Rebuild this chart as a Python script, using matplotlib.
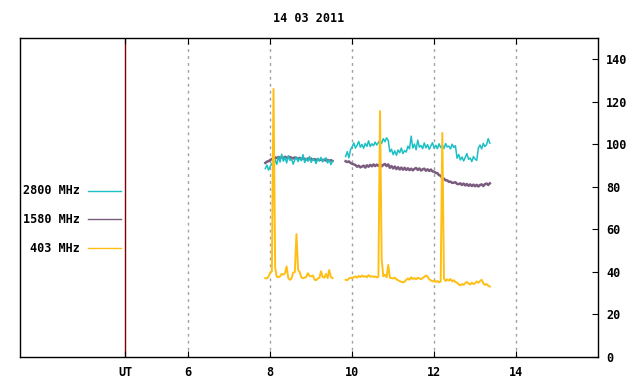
import numpy as np
import matplotlib
matplotlib.use('Agg')
import matplotlib.pyplot as plt

# times in hours UT, sampled every 0.04 h
STEP = 0.04
T1_START = 7.88
T2_START = 9.84

mhz2800_a = [88.5, 90.2, 87.8, 89.6, 91.0, 89.2, 92.8, 90.5, 94.1, 91.6, 95.3, 92.0, 93.8, 91.2,
             94.6, 92.4, 93.1, 90.6, 92.7, 94.0, 91.8, 93.5, 92.2, 95.1, 91.4, 93.3, 92.0, 94.2,
             91.5, 93.0, 92.6, 90.9, 93.4, 92.1, 93.8, 91.7, 92.9, 93.6, 91.2, 92.5, 90.4, 92.0]
mhz2800_b = [94.2, 96.5, 93.6, 97.4, 98.8, 100.6, 98.2, 99.5, 101.3, 98.6, 99.9, 98.1, 100.4, 99.0,
             101.6, 98.9, 100.2, 99.3, 101.0, 99.6, 100.8, 101.9, 100.4, 102.6, 101.2, 103.0, 101.8,
             96.4, 97.6, 95.1, 96.9, 94.8, 97.3, 96.0, 98.2, 95.6, 97.0, 96.3, 99.1, 97.8, 103.8,
             98.2, 100.1, 97.4, 101.9, 98.6, 99.4, 97.9, 100.6, 98.3, 99.8, 97.6, 99.2, 100.7, 98.1,
             99.5, 97.9, 100.2, 98.4, 99.6, 98.0, 100.3, 98.7, 99.1, 97.8, 100.0, 98.5, 99.3,
             93.4, 95.2, 92.6, 94.0, 92.1, 93.8, 95.6, 92.9, 93.5, 91.8, 94.2, 93.0, 92.4,
             98.2, 99.6, 97.8, 100.4, 98.9, 99.8, 102.6, 100.5]

mhz1580_a = [91.2, 91.8, 92.0, 92.6, 93.0, 93.4, 93.8, 93.5, 94.0, 93.6, 93.9, 93.4, 94.1, 93.7,
             93.5, 94.0, 93.6, 93.3, 93.8, 93.4, 93.2, 93.6, 93.0, 93.4, 93.1, 92.8, 93.3, 92.9,
             93.2, 92.7, 93.0, 92.6, 92.9, 92.5, 92.8, 92.4, 92.7, 92.3, 92.6, 92.2, 92.5, 92.1]
mhz1580_b = [92.0, 91.6, 91.9, 91.2, 90.8, 90.5, 90.2, 89.4, 89.9, 89.1, 89.5, 89.9, 89.0, 90.1,
             89.4, 90.3, 89.6, 90.5, 89.7, 90.4, 89.8, 90.6, 89.6, 90.3, 90.7, 89.7, 90.5,
             88.9, 89.7, 88.6, 89.5, 88.3, 89.2, 88.1, 89.0, 88.0, 88.9, 87.9, 88.7, 87.8, 88.5,
             87.7, 88.4, 88.8, 87.9, 88.6, 87.6, 88.2, 88.5, 87.5, 88.2, 87.4, 88.1, 87.2, 87.1,
             86.5, 86.4, 85.4, 85.2, 84.0, 83.8, 83.0, 83.0, 82.3, 82.4, 81.8, 81.9, 82.1, 81.3,
             81.2, 81.6, 80.8, 81.5, 80.6, 81.3, 80.4, 81.1, 80.3, 81.0, 80.2, 80.9, 80.1, 80.8,
             81.1, 80.3, 81.2, 81.5, 80.8, 81.6]

mhz403_a = [37.0, 36.8, 37.8, 39.5, 40.2, 126.0, 42.0, 37.6, 37.4, 37.8, 39.0, 38.6, 39.2, 42.5,
            37.0, 36.2, 36.8, 39.6, 39.8, 57.7, 41.0, 39.8, 37.4, 36.9, 37.2, 37.6, 39.3, 38.0,
            37.8, 38.2, 36.3, 36.0, 36.8, 37.1, 40.2, 37.5, 37.2, 38.9, 37.0, 40.8, 37.4, 37.0]
mhz403_b = [36.2, 36.0, 36.8, 37.2, 36.9, 37.4, 37.8, 37.2, 38.0, 37.5, 38.2, 37.6, 37.9, 37.4,
            38.4, 37.6, 37.9, 37.5, 37.8, 37.3, 37.6, 115.6, 45.8, 37.8, 38.6, 37.4, 43.2, 37.2,
            37.0, 36.8, 37.2, 36.4, 36.0, 35.6, 35.2, 35.0, 35.3, 36.2, 36.8, 36.2, 37.4, 36.6,
            37.0, 36.4, 37.2, 36.8, 36.5, 37.0, 37.6, 38.2, 37.8, 36.4, 36.0, 35.4, 35.8, 35.2,
            35.6, 35.0, 35.4, 105.3, 36.8, 35.6, 36.4, 35.8, 36.6, 35.4, 36.0, 35.2, 34.8, 34.0,
            33.6, 34.2, 33.8, 34.6, 35.2, 34.4, 34.0, 34.8, 34.2, 34.6, 35.4, 34.8, 35.6, 36.2,
            34.6, 33.8, 34.2, 33.4, 33.0]

labels = ['2800 MHz', '1580 MHz', '403 MHz']
colors = ['#1cc0c4', '#7a5c7e', '#ffbe14']
xticks = [4.46, 6, 8, 10, 12, 14]
xticklabels = ['UT', '6', '8', '10', '12', '14']
yticks = [0, 20, 40, 60, 80, 100, 120, 140]


def times(start, vals):
    return start + STEP * np.arange(len(vals))


FONT = dict(family='DejaVu Sans Mono', weight='bold', size=8.5)

fig = plt.figure(figsize=(6.4, 3.84), dpi=100)
ax = fig.add_axes([0.0317, 0.0711, 0.9027, 0.830])

series = [(mhz2800_a, mhz2800_b), (mhz1580_a, mhz1580_b), (mhz403_a, mhz403_b)]
zorders = [3, 2, 4]
widths = [1.1, 1.8, 1.4]
for (a, b), c, z, w in zip(series, colors, zorders, widths):
    ax.plot(times(T1_START, a), a, color=c, lw=w, zorder=z)
    ax.plot(times(T2_START, b), b, color=c, lw=w, zorder=z)

ax.set_xlim(1.9, 16)
ax.set_ylim(0, 150)

for x in xticks[1:]:
    ax.axvline(x, color='#a0a0a0', lw=1, ls=(0, (2, 3)), zorder=1)
ax.axvline(xticks[0], color='#800000', lw=1, zorder=1)

ax.set_xticks(xticks)
ax.set_xticklabels(xticklabels, **FONT)
ax.tick_params(axis='x', direction='in', top=True, bottom=True, length=4, pad=7)
ax.yaxis.tick_right()
ax.set_yticks(yticks)
ax.set_yticklabels([str(v) for v in yticks], **FONT)
ax.tick_params(axis='y', direction='in', left=False, right=True, length=4, pad=6)
for s in ax.spines.values():
    s.set_linewidth(1)

# legend on the left
ys = [0.52, 0.432, 0.341]
for lab, c, y in zip(labels, colors, ys):
    ax.text(0.1033, y, lab, transform=ax.transAxes, ha='right', va='center', **FONT)
    ax.plot([0.1172, 0.1743], [y, y], color=c, lw=1, transform=ax.transAxes)

fig.text(309 / 640, 1 - 19 / 384, '14 03 2011', ha='center', va='center', **FONT)

fig.savefig('out.png', dpi=100)
